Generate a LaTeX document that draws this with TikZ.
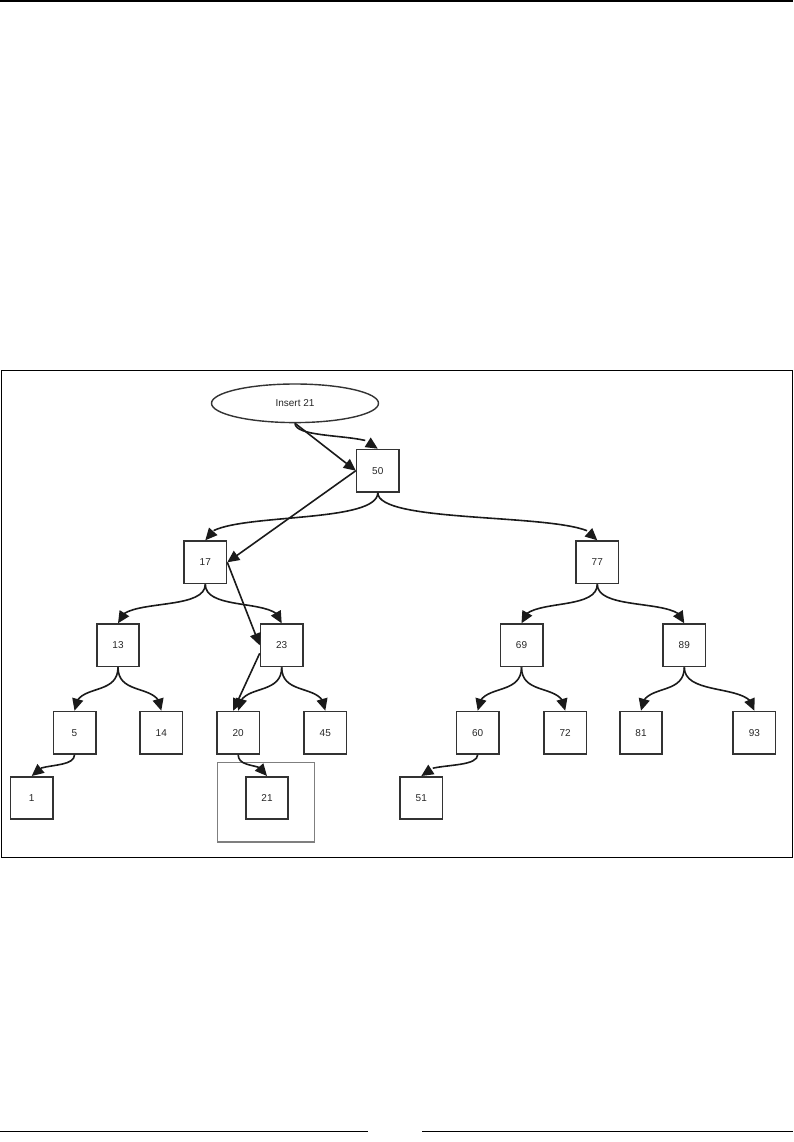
\documentclass[tikz,border=0pt]{standalone}
\usepackage{fontspec}
\setmainfont{Liberation Sans}
\usetikzlibrary{arrows.meta,bending,shapes.geometric}
\definecolor{boxgray}{HTML}{333333}
\definecolor{edgecol}{HTML}{1A1A1A}
\definecolor{framegray}{HTML}{7F7F7F}
\begin{document}
\begin{tikzpicture}[x=1pt,y=-1pt,
  box/.style={draw=boxgray,line width=1.6pt,minimum size=42.4pt,inner sep=0pt,
    font=\fontsize{10}{11}\selectfont,text=black!85},
  edge/.style={draw=edgecol,line width=1.6pt,-{Triangle[length=12pt,width=11pt,flex]}},
  rule/.style={draw=black,line width=1pt}]
\useasboundingbox (0,0) rectangle (793,1142);
% page rules and frame
\draw[rule,line width=1.2pt] (0,1) -- (793,1);
\draw[rule] (0,1131.7) -- (368,1131.7);
\draw[rule] (422,1131.7) -- (793,1131.7);
\draw[rule] (1,370.3) rectangle (792,857);
% highlight box around the new node
\draw[draw=framegray,line width=1.2pt] (217.3,762.7) rectangle (314.7,842);
% nodes
\node[draw=boxgray,line width=1.4pt,ellipse,minimum width=167pt,minimum height=38.6pt,
  inner sep=0pt,font=\fontsize{10}{11}\selectfont,text=black!85] (ins) at (295,403.3) {Insert 21};
\node[box] (n50) at (377.8,470.7) {50};
\node[box] (n17) at (205.3,562.3) {17};
\node[box] (n77) at (597.3,562.3) {77};
\node[box] (n13) at (118,645.3) {13};
\node[box] (n23) at (281.7,645.3) {23};
\node[box] (n69) at (521.5,645.3) {69};
\node[box] (n89) at (684.3,645.3) {89};
\node[box] (n5) at (74.5,732.7) {5};
\node[box] (n14) at (161.3,732.7) {14};
\node[box] (n20) at (238.2,732.7) {20};
\node[box] (n45) at (325.3,732.7) {45};
\node[box] (n60) at (477.7,732.7) {60};
\node[box] (n72) at (565.2,732.7) {72};
\node[box] (n81) at (641,732.7) {81};
\node[box] (n93) at (754.3,732.7) {93};
\node[box] (n1) at (31.7,798) {1};
\node[box] (n21) at (267,798) {21};
\node[box] (n51) at (421.3,798) {51};
% tree edges
\draw[edge] (n50.south) .. controls +(0,34) and +(0,-30) .. (n17.north);
\draw[edge] (n50.south) .. controls +(0,34) and +(0,-30) .. (n77.north);
\draw[edge] (n17.south) .. controls +(0,28) and +(0,-26) .. (n13.north);
\draw[edge] (n17.south) .. controls +(0,28) and +(0,-26) .. (n23.north);
\draw[edge] (n77.south) .. controls +(0,28) and +(0,-26) .. (n69.north);
\draw[edge] (n77.south) .. controls +(0,28) and +(0,-26) .. (n89.north);
\draw[edge] (n13.south) .. controls +(0,30) and +(0,-28) .. (n5.north);
\draw[edge] (n13.south) .. controls +(0,30) and +(0,-28) .. (n14.north);
\draw[edge] (n23.south) .. controls +(0,30) and +(0,-28) .. (n20.north);
\draw[edge] (n23.south) .. controls +(0,30) and +(0,-28) .. (n45.north);
\draw[edge] (n69.south) .. controls +(0,30) and +(0,-28) .. (n60.north);
\draw[edge] (n69.south) .. controls +(0,30) and +(0,-28) .. (n72.north);
\draw[edge] (n89.south) .. controls +(0,30) and +(0,-28) .. (n81.north);
\draw[edge] (n89.south) .. controls +(0,30) and +(0,-28) .. (n93.north);
\draw[edge] (n5.south) .. controls +(0,15) and +(0,-14) .. (n1.north);
\draw[edge] (n20.south) .. controls +(0,15) and +(0,-14) .. (n21.north);
\draw[edge] (n60.south) .. controls +(0,15) and +(0,-14) .. (n51.north);
% insertion path
\draw[edge] (ins.south) .. controls +(0,17) and +(0,-16) .. (n50.north);
\draw[edge] (ins.south) -- (n50.west);
\draw[edge] (n50.west) -- (n17.east);
\draw[edge] (n17.east) -- (n23.west);
\draw[edge] ([yshift=-8pt]n23.west) -- ([xshift=-5pt]n20.north);
\end{tikzpicture}
\end{document}
